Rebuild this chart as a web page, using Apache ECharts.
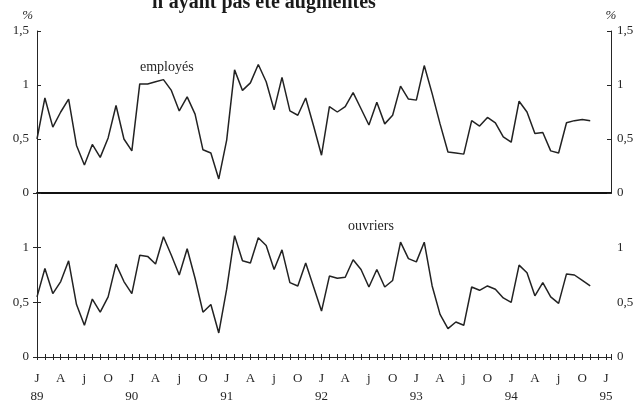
<!DOCTYPE html>
<html>
<head>
<meta charset="utf-8">
<script src="https://cdn.jsdelivr.net/npm/echarts@6/dist/echarts.min.js"></script>
<style>html,body{margin:0;padding:0;background:#fff}#c{width:639px;height:406px}</style>
</head>
<body>
<div id="c"></div>
<script>
// Monthly series, Jan 1989 .. Nov 1994 (71 months), in %
const employes = [
  0.50, 0.88, 0.61, 0.75, 0.87, 0.44, 0.26, 0.45, 0.33, 0.51, 0.81, 0.50,
  0.39, 1.01, 1.01, 1.03, 1.05, 0.95, 0.76, 0.89, 0.73, 0.40, 0.37, 0.13,
  0.49, 1.14, 0.95, 1.02, 1.19, 1.03, 0.77, 1.07, 0.76, 0.72, 0.88, 0.62,
  0.35, 0.80, 0.75, 0.80, 0.93, 0.78, 0.63, 0.84, 0.64, 0.72, 0.99, 0.87,
  0.86, 1.18, 0.92, 0.64, 0.38, 0.37, 0.36, 0.67, 0.62, 0.70, 0.65, 0.52,
  0.47, 0.85, 0.75, 0.55, 0.56, 0.39, 0.37, 0.65, 0.67, 0.68, 0.67
];
const ouvriers = [
  0.55, 0.81, 0.58, 0.69, 0.88, 0.48, 0.29, 0.53, 0.41, 0.55, 0.85, 0.69,
  0.58, 0.93, 0.92, 0.85, 1.10, 0.93, 0.75, 0.99, 0.72, 0.41, 0.48, 0.22,
  0.62, 1.11, 0.88, 0.86, 1.09, 1.02, 0.80, 0.98, 0.68, 0.65, 0.86, 0.64,
  0.42, 0.74, 0.72, 0.73, 0.89, 0.80, 0.64, 0.80, 0.64, 0.70, 1.05, 0.90,
  0.87, 1.05, 0.65, 0.39, 0.26, 0.32, 0.29, 0.64, 0.61, 0.65, 0.62, 0.54,
  0.50, 0.84, 0.77, 0.56, 0.68, 0.55, 0.49, 0.76, 0.75, 0.70, 0.65
];
const quarterLabels = ['J', 'A', 'j', 'O'];
const yearLabels = ['89', '90', '91', '92', '93', '94', '95'];
const titleText = "n'ayant pas été augmentés";
const seriesNames = ['employés', 'ouvriers'];

const serif = '"Liberation Serif", "DejaVu Serif", serif';
const ink = '#262626';
const fmtY = v => String(v).replace('.', ',');

function xAxisBase(gridIndex) {
  return {
    type: 'value', gridIndex, min: 0, max: 72.63, interval: 1,
    splitLine: { show: false }
  };
}
function yAxisBase(gridIndex, position, hideTop) {
  return {
    type: 'value', gridIndex, position, min: 0, max: 1.5, interval: 0.5,
    splitLine: { show: false },
    axisLine: { show: true, lineStyle: { color: ink, width: 1 } },
    axisTick: { show: true, inside: true, length: 4, lineStyle: { color: ink } },
    axisLabel: {
      color: ink, fontFamily: serif, fontSize: 13, margin: position === 'left' ? 8 : 6,
      formatter: v => (hideTop && v === 1.5) ? '' : fmtY(v)
    }
  };
}

const chart = echarts.init(document.getElementById('c'), null, { renderer: 'canvas' });
chart.setOption({
  backgroundColor: '#ffffff',
  animation: false,
  title: {
    text: titleText, left: 152, top: -7, padding: 0,
    textStyle: { fontFamily: serif, fontSize: 20, fontWeight: 'bold', color: '#1a1a1a' }
  },
  grid: [
    { left: 37, right: 28, top: 31, height: 162 },
    { left: 37, right: 28, top: 193, height: 164 }
  ],
  xAxis: [
    Object.assign(xAxisBase(0), {
      axisLine: { onZero: true, lineStyle: { color: '#111', width: 2 } },
      axisTick: { show: false }, axisLabel: { show: false }
    }),
    Object.assign(xAxisBase(1), {
      position: 'bottom',
      axisLine: { lineStyle: { color: ink, width: 1 } },
      axisTick: { show: true, length: 3, lineStyle: { color: ink } },
      axisLabel: {
        color: ink, fontFamily: serif, fontSize: 13, lineHeight: 18, margin: 13,
        formatter: v => {
          if (!Number.isInteger(v) || v % 3 !== 0) return '';
          let s = quarterLabels[(v / 3) % 4];
          if (v % 12 === 0) s += '\n' + yearLabels[v / 12];
          return s;
        }
      }
    }),
    Object.assign(xAxisBase(1), {
      position: 'bottom',
      axisLine: { show: false },
      axisTick: { show: true, inside: true, length: 3, lineStyle: { color: ink } },
      axisLabel: { show: false }
    })
  ],
  yAxis: [
    Object.assign(yAxisBase(0, 'left', false), {
      name: '%', nameLocation: 'end', nameGap: 9,
      nameTextStyle: { fontFamily: serif, fontSize: 13, fontStyle: 'italic', color: ink, align: 'right', padding: [0, 4, 0, 0] }
    }),
    Object.assign(yAxisBase(0, 'right', false), {
      name: '%', nameLocation: 'end', nameGap: 9,
      nameTextStyle: { fontFamily: serif, fontSize: 13, fontStyle: 'italic', color: ink, align: 'center', padding: [0, 0, 0, 0] }
    }),
    yAxisBase(1, 'left', true),
    yAxisBase(1, 'right', true)
  ],
  graphic: [
    { type: 'text', left: 140, top: 60, style: { text: seriesNames[0], font: '14px ' + serif, fill: ink } },
    { type: 'text', left: 348, top: 219, style: { text: seriesNames[1], font: '14px ' + serif, fill: ink } }
  ],
  series: [
    {
      name: seriesNames[0], type: 'line', xAxisIndex: 0, yAxisIndex: 0,
      data: employes.map((v, i) => [i, v]), symbol: 'none',
      lineStyle: { color: '#222', width: 1.5 }
    },
    {
      name: seriesNames[1], type: 'line', xAxisIndex: 1, yAxisIndex: 2,
      data: ouvriers.map((v, i) => [i, v]), symbol: 'none',
      lineStyle: { color: '#222', width: 1.5 }
    }
  ]
});
</script>
</body>
</html>
